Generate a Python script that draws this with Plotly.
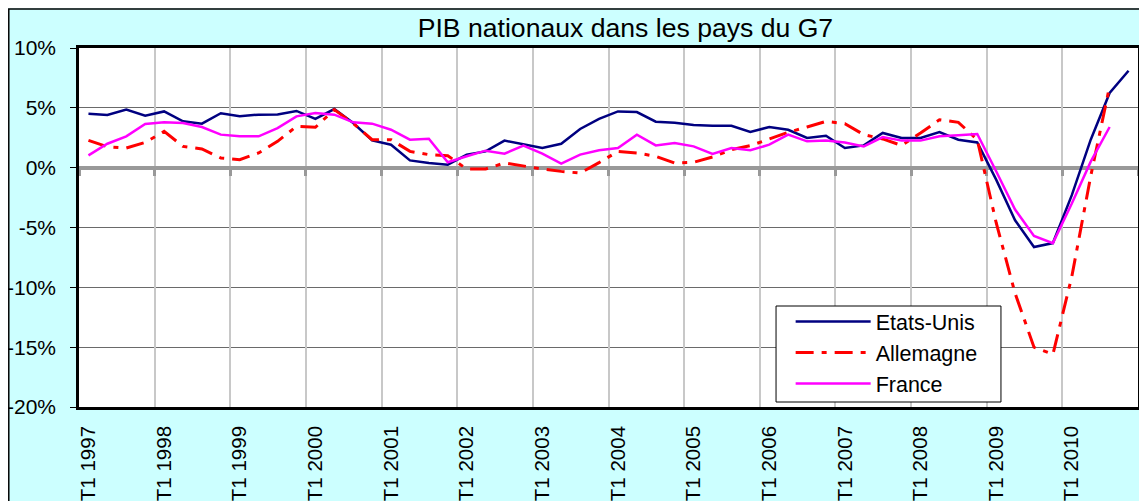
import plotly.graph_objects as go

years = list(range(1997, 2011))
quarters = [f"T{q} {y}" for y in years for q in range(1, 5)]
tick_labels = [f"T1 {y}" for y in years]

etats_unis = [4.5, 4.4, 4.85, 4.35, 4.7, 3.87, 3.68, 4.55, 4.3, 4.43,
              4.45, 4.74, 4.07, 4.9, 3.73, 2.28, 1.92, 0.61, 0.39, 0.25,
              1.09, 1.36, 2.26, 1.92, 1.64, 2.0, 3.23, 4.07, 4.7, 4.65,
              3.84, 3.76, 3.56, 3.5, 3.5, 2.98, 3.4, 3.17, 2.48, 2.67,
              1.64, 1.86, 2.9, 2.48, 2.48, 2.98, 2.34, 2.11, -1.0, -4.4,
              -6.63, -6.3, -2.3, 2.34, 6.24, 8.1]
allemagne = [2.28, 1.75, 1.64, 2.11, 3.03, 1.78, 1.56, 0.81, 0.67, 1.23,
             2.2, 3.45, 3.37, 4.85, 3.7, 2.34, 2.34, 1.36, 1.09, 1.0,
             -0.11, -0.11, 0.39, 0.11, -0.11, -0.31, -0.45, 0.42, 1.36, 1.23,
             0.95, 0.39, 0.45, 0.89, 1.5, 1.84, 2.4, 2.95, 3.4, 3.87,
             3.68, 2.76, 2.4, 1.86, 2.9, 4.0, 3.79, 2.34, -4.6, -10.5,
             -15.0, -15.6, -9.1, -0.7, 6.8]
france = [1.03, 2.0, 2.62, 3.65, 3.79, 3.73, 3.4, 2.76, 2.62, 2.62,
          3.31, 4.29, 4.57, 4.43, 3.79, 3.68, 3.17, 2.34, 2.42, 0.45,
          0.95, 1.42, 1.17, 1.84, 1.17, 0.33, 1.09, 1.45, 1.64, 2.76,
          1.86, 2.06, 1.78, 1.14, 1.64, 1.45, 1.92, 2.76, 2.2, 2.26,
          2.11, 1.78, 2.56, 2.26, 2.26, 2.62, 2.7, 2.81, -0.3, -3.5,
          -5.7, -6.3, -3.0, 0.5, 3.4]

y_ticks = [-20, -15, -10, -5, 0, 5, 10]
y_tick_text = ["-20%", "-15%", "-10%", "-5%", "0%", "5%", "10%"]

FONT = "Liberation Sans, Arial, sans-serif"
n = len(quarters)
xi = list(range(n))
tick_pos = [quarters.index(t) for t in tick_labels]
boundaries = [p - 0.5 for p in tick_pos] + [n - 0.5]

fig = go.Figure()
# empty trace to activate the zero-crossing category axis (x2)
fig.add_trace(go.Scatter(x=[], y=[], xaxis="x2", yaxis="y", showlegend=False, hoverinfo="skip"))
fig.add_trace(go.Scatter(x=xi[:len(etats_unis)], y=etats_unis, name="Etats-Unis", mode="lines",
                         line=dict(color="#000080", width=2.5)))
fig.add_trace(go.Scatter(x=xi[:len(allemagne)], y=allemagne, name="Allemagne", mode="lines",
                         line=dict(color="#FF0000", width=3, dash="18px,8px,5px,8px")))
fig.add_trace(go.Scatter(x=xi[:len(france)], y=france, name="France", mode="lines",
                         line=dict(color="#FF00FF", width=2.5)))

fig.update_layout(
    width=1139, height=493,
    margin=dict(l=71, r=9, t=40, b=94),
    paper_bgcolor="#CCFFFF", plot_bgcolor="white",
    font=dict(family=FONT, color="black"),
    title=dict(text="PIB nationaux dans les pays du G7", font=dict(size=26.6, family=FONT, color="black"),
               x=0.516, xref="paper", xanchor="center", y=0.96, yref="container", yanchor="middle"),
    xaxis=dict(range=[-0.5, n - 0.5], tickmode="array", tickvals=tick_pos, ticktext=tick_labels,
               tickangle=-90, tickfont=dict(size=20.5), showgrid=False, zeroline=False,
               showline=True, linecolor="black", linewidth=2.5, mirror=True, ticks="",
               ticklabelstandoff=8, automargin=False),
    xaxis2=dict(range=[-0.5, n - 0.5], overlaying="x", anchor="free", position=2/3,
                tickmode="array", tickvals=boundaries, showticklabels=False,
                ticks="outside", ticklen=6, tickwidth=3, tickcolor="#999999",
                showline=True, linecolor="#999999", linewidth=4,
                showgrid=True, gridcolor="#C8C8C8", gridwidth=1.5, zeroline=False,
                layer="below traces"),
    yaxis=dict(range=[-20, 10], tickmode="array", tickvals=y_ticks, ticktext=y_tick_text,
               tickfont=dict(size=21), showgrid=True, gridcolor="#6A6A6A", gridwidth=1.3,
               zeroline=False, showline=True, linecolor="black", linewidth=2.5, mirror=True,
               ticks="outside", ticklen=6, tickcolor="black", ticklabelstandoff=10,
               automargin=False),
    legend=dict(x=0.672, y=0.295, xanchor="left", yanchor="top", bgcolor="rgba(0,0,0,0)",
                borderwidth=0, font=dict(size=21.5, family=FONT),
                itemwidth=75, tracegroupgap=0),
    showlegend=True,
    shapes=[
        # legend frame
        dict(type="rect", xref="paper", yref="paper", x0=0.6582, x1=0.8706, y0=0.0139, y1=0.2813,
             fillcolor="white", line=dict(color="black", width=1), layer="above"),
        # outer chart frame
        dict(type="rect", xref="paper", yref="paper", x0=-0.0663, x1=2, y0=-1, y1=1.1086,
             fillcolor="rgba(0,0,0,0)", line=dict(color="black", width=1.5), layer="above"),
    ],
)

fig.write_html("out.html")
